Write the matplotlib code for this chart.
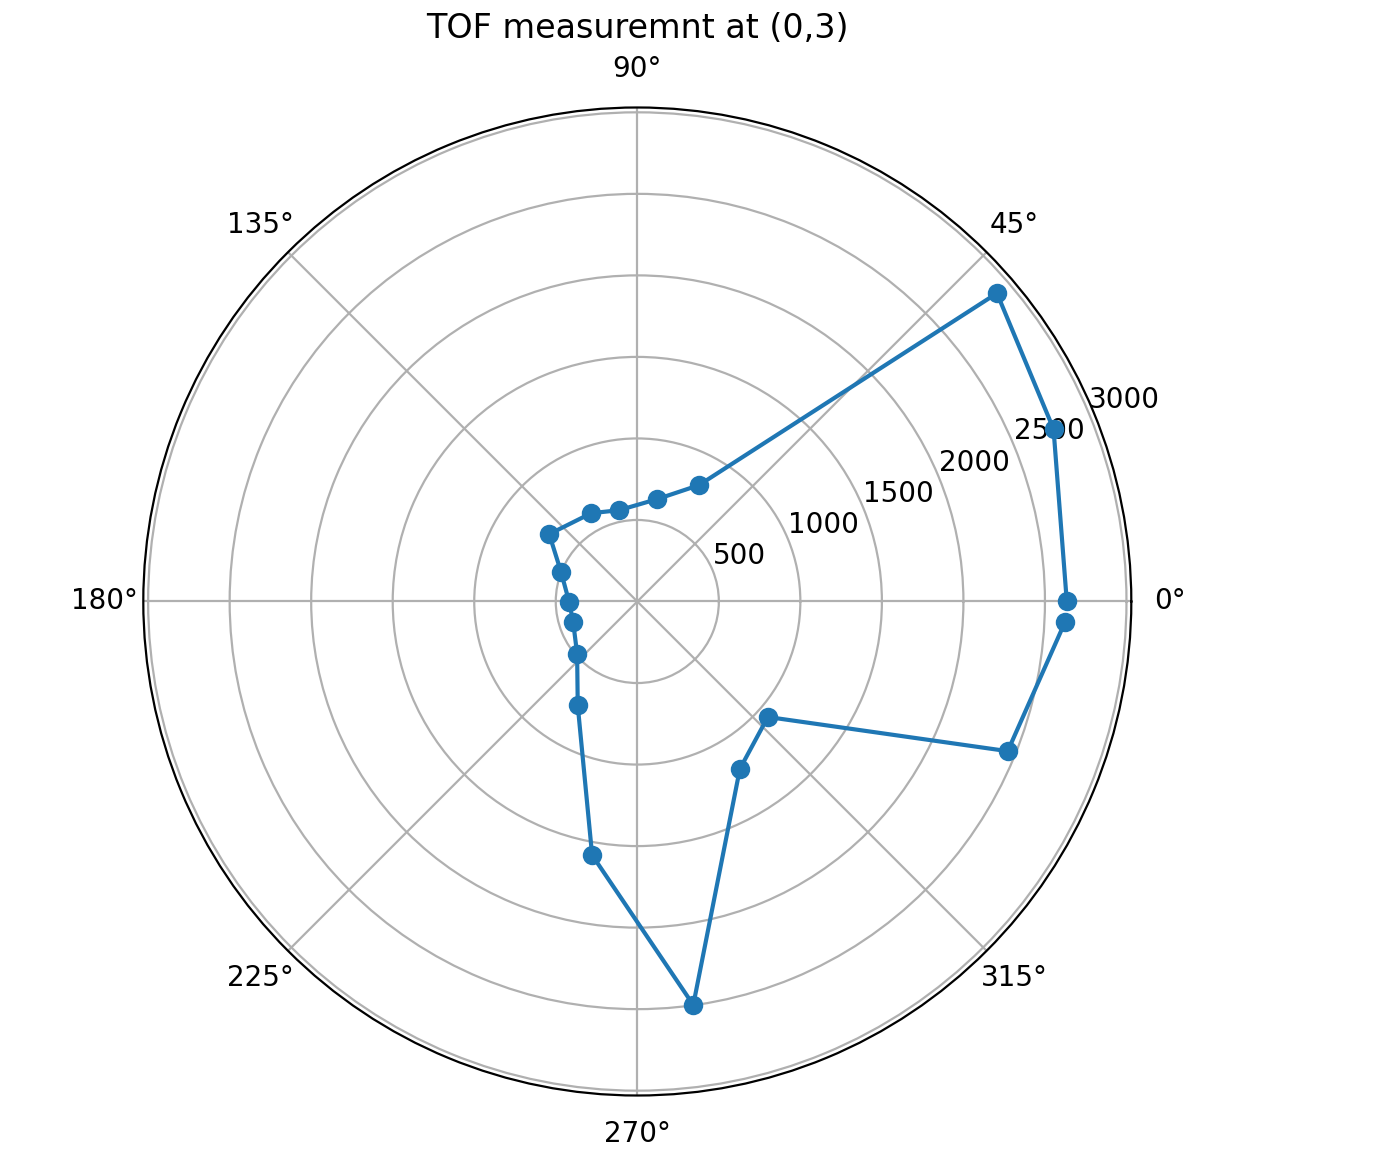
import numpy as np
import matplotlib.pyplot as plt

# angles (deg) and TOF readings
angles_deg = [0, 22.5, 40.6, 62.1, 79.1, 101.3, 117.6, 142.6, 158.9, 180.4,
              197.7, 221.0, 240.2, 259.9, 277.9, 301.5, 318.5, 338.0, 357.3]
tof = [2634, 2763, 2905, 807, 639, 571, 611, 680, 501, 418,
       413, 489, 735, 1580, 2498, 1204, 1069, 2450, 2627]

fig = plt.figure(figsize=(6.98, 5.82), dpi=200)
ax = fig.add_axes([0.10265, 0.05885, 0.70774, 0.84880], projection='polar')
ax.plot(np.deg2rad(angles_deg), tof, marker='o')
ax.set_title("TOF measuremnt at (0,3)")
ax.grid(True)

fig.savefig("out.png", dpi=200)
